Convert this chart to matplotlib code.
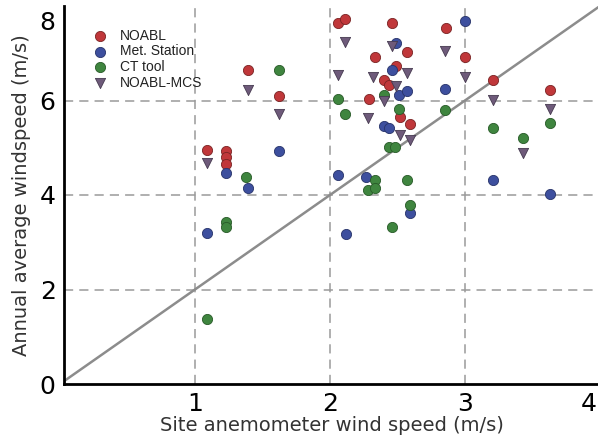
import matplotlib
matplotlib.use("Agg")
import matplotlib.pyplot as plt
from matplotlib.transforms import ScaledTranslation

# ---- data ----
noabl_x = [1.09, 1.23, 1.23, 1.23, 1.39, 1.62, 2.06, 2.11, 2.33, 2.29, 2.46, 2.40, 2.44,
           2.49, 2.57, 2.52, 2.59, 2.86, 3.00, 3.21, 3.63]
noabl_y = [4.95, 4.93, 4.80, 4.66, 6.65, 6.10, 7.63, 7.72, 6.93, 6.03, 7.63, 6.43, 6.33,
           6.74, 7.03, 5.66, 5.50, 7.53, 6.93, 6.43, 6.22]

met_x = [1.09, 1.23, 1.39, 1.62, 2.06, 2.12, 2.27, 2.40, 2.44, 2.49, 2.46, 2.51, 2.57,
         2.59, 2.85, 3.00, 3.21, 3.63]
met_y = [3.19, 4.46, 4.14, 4.93, 4.42, 3.17, 4.39, 5.45, 5.41, 7.21, 6.65, 6.12, 6.21,
         3.61, 6.24, 7.69, 4.32, 4.02]

ct_x = [1.09, 1.23, 1.23, 1.38, 1.62, 2.06, 2.11, 2.33, 2.28, 2.33, 2.40, 2.51, 2.44,
        2.48, 2.57, 2.59, 2.46, 2.85, 3.21, 3.43, 3.63]
ct_y = [1.37, 3.42, 3.33, 4.39, 6.65, 6.03, 5.71, 4.32, 4.11, 4.14, 6.12, 5.82, 5.02,
        5.02, 4.32, 3.79, 3.33, 5.80, 5.42, 5.21, 5.52]

mcs_x = [1.09, 1.39, 1.62, 2.11, 2.06, 2.32, 2.28, 2.46, 2.49, 2.57, 2.40, 2.52, 2.59,
         2.85, 3.00, 3.21, 3.43, 3.63]
mcs_y = [4.67, 6.22, 5.71, 7.24, 6.54, 6.50, 5.62, 7.16, 6.31, 6.59, 6.00, 5.27, 5.16,
         7.05, 6.49, 6.01, 4.88, 5.83]

series_names = ["NOABL", "Met. Station", "CT tool", "NOABL-MCS"]
x_ticks = [1, 2, 3, 4]
y_ticks = [0, 2, 4, 6, 8]
x_grid = [1, 2, 3]
y_grid = [2, 4, 6]
ref_slope = 2.0

# ---- figure ----
fig = plt.figure(figsize=(5.98, 4.41), dpi=100)
W, H = 598, 441
left_px, right_px, bottom_px, top_px = 64, 600, 384, 6
ax = fig.add_axes([left_px / W, (H - bottom_px) / H,
                   (right_px - left_px) / W, (bottom_px - top_px) / H])
ax.set_xlim(0.03, 4.0)
ax.set_ylim(0, 8.0)

grid_kw = dict(color="#9a9a9a", linewidth=1.1, dashes=(6, 4), zorder=1)
for gx in x_grid:
    ax.axvline(gx, **grid_kw)
for gy in y_grid:
    ax.axhline(gy, **grid_kw)

ax.axline((0, 0), slope=ref_slope, color="#8c8c8c", linewidth=1.8, zorder=2)

ms = 54
ax.scatter(noabl_x, noabl_y, s=ms, marker="o", color="#c0373a", edgecolor="#7a2424",
           linewidth=0.6, zorder=3, label=series_names[0])
ax.scatter(met_x, met_y, s=ms, marker="o", color="#3d4f9e", edgecolor="#28346a",
           linewidth=0.6, zorder=3, label=series_names[1])
ax.scatter(ct_x, ct_y, s=ms, marker="o", color="#3f853f", edgecolor="#285a28",
           linewidth=0.6, zorder=3, label=series_names[2])
ax.scatter(mcs_x, mcs_y, s=ms, marker="v", color="#6e5a7a", edgecolor="#463a50",
           linewidth=0.6, zorder=3, label=series_names[3])

for side in ["top", "right"]:
    ax.spines[side].set_visible(False)
for side in ["left", "bottom"]:
    ax.spines[side].set_linewidth(2.0)
    ax.spines[side].set_color("black")

ax.set_xticks(x_ticks)
ax.set_yticks(y_ticks)
ax.tick_params(axis="both", length=0, labelsize=18, colors="black")
ax.tick_params(axis="x", pad=6)
ax.tick_params(axis="y", pad=6)

# nudge the edge labels inward, as in the reference
for lab in ax.get_yticklabels():
    if lab.get_text() == "8":
        lab.set_transform(lab.get_transform() +
                          ScaledTranslation(0, -0.15, fig.dpi_scale_trans))
for lab in ax.get_xticklabels():
    if lab.get_text() == "4":
        lab.set_transform(lab.get_transform() +
                          ScaledTranslation(-0.11, 0, fig.dpi_scale_trans))

ax.set_xlabel("Site anemometer wind speed (m/s)", fontsize=14, color="#333333", labelpad=0)
ax.set_ylabel("Annual average windspeed (m/s)", fontsize=14, color="#333333", labelpad=6)

leg = ax.legend(loc="upper left", bbox_to_anchor=(0.03, 0.955), frameon=False,
                prop={"family": "Liberation Sans", "size": 10}, labelspacing=0.12,
                handletextpad=0.5, borderaxespad=0, scatterpoints=1)
for t in leg.get_texts():
    t.set_color("#222222")

fig.savefig("out.png", dpi=100)
